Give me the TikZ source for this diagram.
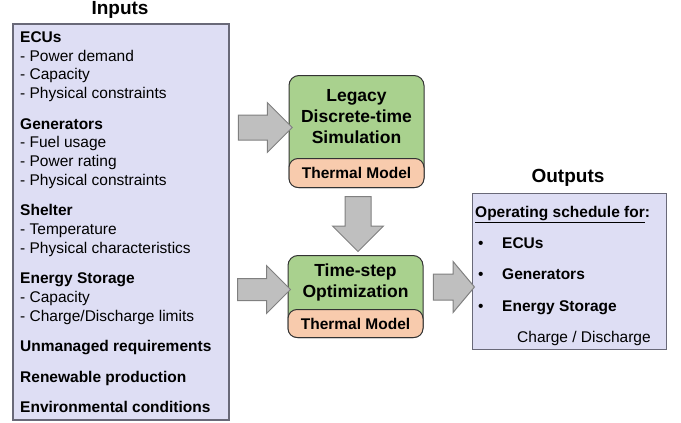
\documentclass[tikz,border=0pt]{standalone}
\usepackage{fontspec}
\setmainfont{Liberation Sans}
\usetikzlibrary{shapes.arrows,calc}

\definecolor{inputfill}{RGB}{222,222,244}
\definecolor{inputline}{RGB}{105,105,120}
\definecolor{simgreen}{RGB}{169,209,142}
\definecolor{thermal}{RGB}{248,203,173}
\definecolor{arrowfill}{RGB}{191,191,191}
\definecolor{arrowline}{RGB}{128,128,128}

\tikzset{
  listbox/.style={draw=inputline, line width=1.5pt, fill=inputfill, inner sep=0pt},
  simbox/.style={draw=black!80, line width=1pt, fill=simgreen, rounded corners=10pt,
    inner sep=0pt, minimum width=135pt},
  thermbox/.style={draw=black!80, line width=1pt, fill=thermal, rounded corners=9pt,
    inner sep=0pt, minimum width=135pt, font=\fontsize{15.5}{18}\selectfont\bfseries},
  boxtitle/.style={align=center, font=\fontsize{17.5}{21}\selectfont\bfseries},
  heading/.style={font=\fontsize{19}{22}\selectfont\bfseries},
  blockarrow/.style={single arrow, draw=arrowline, fill=arrowfill, line width=1pt,
    inner xsep=0pt}
}

\begin{document}
\begin{tikzpicture}[x=1pt, y=-1pt]
    \useasboundingbox (0,0) rectangle (681,423);

    % Inputs
    \node[heading] (intitle) at (120,10) {Inputs};
    \node[listbox, minimum width=216pt, minimum height=396pt, anchor=north west] (inputs) at (12,23) {};
    \node[anchor=north west, inner sep=0pt, align=left, font=\fontsize{15.5}{18.7}\selectfont] (inlist) at (20,31.5) {%
        \textbf{ECUs}\\
        - Power demand\\
        - Capacity\\
        - Physical constraints\\[11.8pt]
        \textbf{Generators}\\
        - Fuel usage\\
        - Power rating\\
        - Physical constraints\\[11.8pt]
        \textbf{Shelter}\\
        - Temperature\\
        - Physical characteristics\\[11.8pt]
        \textbf{Energy Storage}\\
        - Capacity\\
        - Charge/Discharge limits\\[11.8pt]
        \textbf{Unmanaged requirements}\\[11.8pt]
        \textbf{Renewable production}\\[11.8pt]
        \textbf{Environmental conditions}};

    % Legacy simulation
    \node[simbox, minimum height=112pt, anchor=north] (legacy) at (356.5,75) {};
    \node[thermbox, minimum height=29pt, anchor=south] (legacyth) at (legacy.south) {Thermal Model};
    \node[boxtitle] (legacytxt) at ($(legacy.north)!0.5!(legacyth.north)$) {Legacy\\Discrete-time\\Simulation};

    % Time-step optimization
    \node[simbox, minimum height=82pt, anchor=north] (timestep) at (355.5,255) {};
    \node[thermbox, minimum height=28pt, anchor=south] (timestepth) at (timestep.south) {Thermal Model};
    \node[boxtitle] (timesteptxt) at ($(timestep.north)!0.5!(timestepth.north)$) {Time-step\\Optimization};

    % Outputs
    \node[heading] (outtitle) at (568,178) {Outputs};
    \node[listbox, line width=1pt, minimum width=194pt, minimum height=156pt, anchor=north west] (outputs) at (472,193) {};
    \node[anchor=north west, inner sep=0pt, align=left, font=\fontsize{15.5}{31.2}\selectfont] (outlist) at (475,206) {%
        \textbf{\underline{Operating schedule for}:}\\
        \hspace*{3pt}\makebox[24pt][l]{\textbullet}\textbf{ECUs}\\
        \hspace*{3pt}\makebox[24pt][l]{\textbullet}\textbf{Generators}\\
        \hspace*{3pt}\makebox[24pt][l]{\textbullet}\textbf{Energy Storage}\\
        \hspace*{42pt}Charge / Discharge};

    % Block arrows
    \node[blockarrow, minimum height=54pt, inner ysep=12pt, single arrow head extend=12.5pt] (arrlegacy) at (259,127.5) {};
    \node[blockarrow, rotate=-90, minimum height=55pt, inner ysep=12.5pt, single arrow head extend=12.5pt] (arrdown) at (358,217.5) {};
    \node[blockarrow, minimum height=53pt, inner ysep=10.5pt, single arrow head extend=13pt] (arrtimestep) at (258.5,289.5) {};
    \node[blockarrow, minimum height=41pt, inner ysep=12.5pt, single arrow head extend=12.5pt, single arrow tip angle=100] (arrout) at (448.5,287) {};

\end{tikzpicture}
\end{document}
